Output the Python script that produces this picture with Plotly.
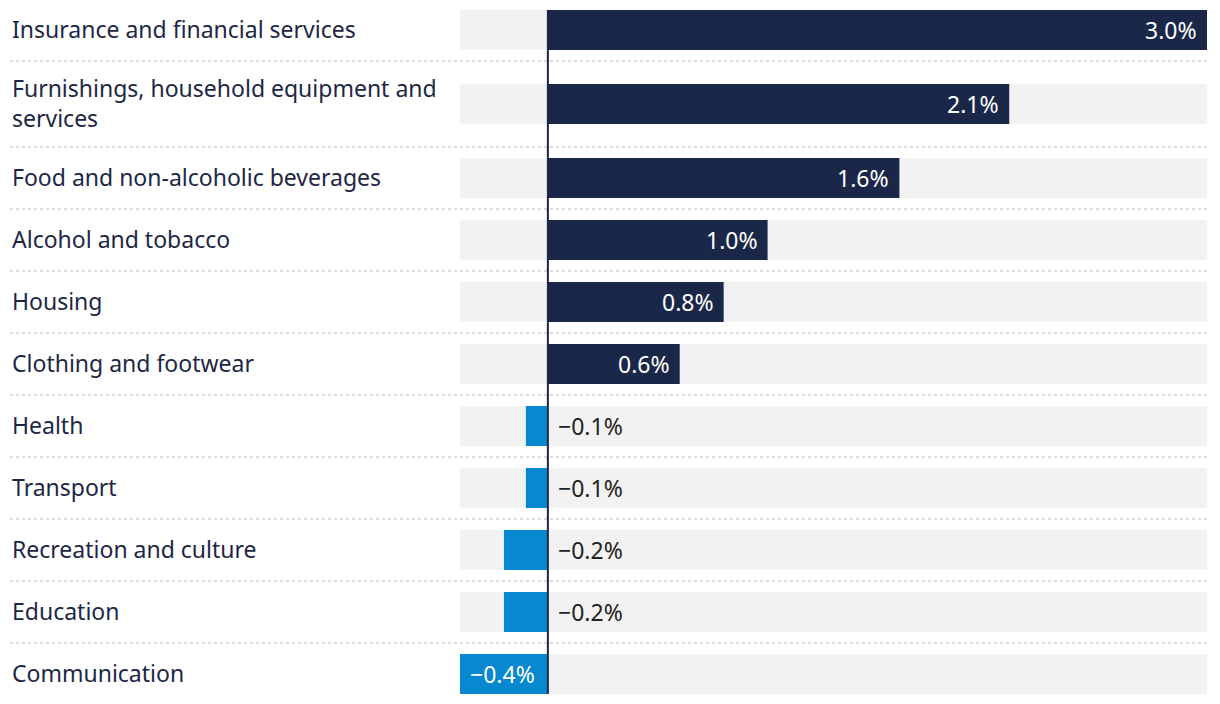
import plotly.graph_objects as go

categories = [
    "Insurance and financial services",
    "Furnishings, household equipment and<br>services",
    "Food and non-alcoholic beverages",
    "Alcohol and tobacco",
    "Housing",
    "Clothing and footwear",
    "Health",
    "Transport",
    "Recreation and culture",
    "Education",
    "Communication",
]
values = [3.0, 2.1, 1.6, 1.0, 0.8, 0.6, -0.1, -0.1, -0.2, -0.2, -0.4]
value_labels = ["3.0%", "2.1%", "1.6%", "1.0%", "0.8%", "0.6%",
                "−0.1%", "−0.1%", "−0.2%", "−0.2%", "−0.4%"]

NAVY = "#1b2749"
BLUE = "#0788d0"
GREY = "#f2f2f2"
FONT = "Noto Sans"

# page body has an 8px offset; figure is sized to fit the window
W, H = 1212, 696
ML, MR = 452, 13
XMIN, XMAX = -0.4, 3.0
BASE_ROW, LINE_EXTRA, BAR_H = 62, 24, 40
LABEL_X = 2

# row layout (y units = pixels, axis reversed)
centers, bounds = [], []
top = -9
for c in categories:
    h = BASE_ROW + LINE_EXTRA * c.count("<br>")
    centers.append(top + h / 2)
    bounds.append(top + h)
    top += h

fig = go.Figure()
# grey background bars
fig.add_trace(go.Bar(
    y=centers, x=[XMAX - XMIN] * len(values), base=[XMIN] * len(values),
    orientation="h", width=BAR_H, marker=dict(color=GREY, line=dict(width=0)),
    hoverinfo="skip", showlegend=False))
# value bars
fig.add_trace(go.Bar(
    y=centers, x=values, orientation="h", width=BAR_H,
    marker=dict(color=[NAVY if v >= 0 else BLUE for v in values], line=dict(width=0)),
    showlegend=False))

fig.update_layout(barmode="overlay")

plot_w = W - ML - MR
annotations = []
for c, yc in zip(categories, centers):
    annotations.append(dict(
        x=-(ML - LABEL_X) / plot_w, xref="paper", y=yc - 1, yref="y",
        text=c, showarrow=False, xanchor="left", yanchor="middle", align="left",
        font=dict(family=FONT, size=23, color="#1d2745")))
for v, lab, yc in zip(values, value_labels, centers):
    if v >= 0:
        annotations.append(dict(x=v, y=yc, text=lab, showarrow=False, xanchor="right",
                                xshift=-8, font=dict(family=FONT, size=23, color="white")))
    elif v <= -0.3:
        annotations.append(dict(x=v, y=yc, text=lab, showarrow=False, xanchor="left",
                                xshift=8, font=dict(family=FONT, size=23, color="white")))
    else:
        annotations.append(dict(x=0, y=yc, text=lab, showarrow=False, xanchor="left",
                                xshift=8, font=dict(family=FONT, size=23, color="#222222")))

shapes = []
for b in bounds[:-1]:
    shapes.append(dict(type="line", xref="paper", x0=-(ML - LABEL_X) / plot_w, x1=1,
                       yref="y", y0=b, y1=b,
                       line=dict(color="#cfcfcf", width=1.5, dash="dot")))
shapes.append(dict(type="line", xref="x", x0=0, x1=0, yref="y",
                   y0=centers[0] - BAR_H / 2, y1=centers[-1] + BAR_H / 2,
                   line=dict(color=NAVY, width=2)))

fig.update_layout(
    width=W, height=H,
    margin=dict(l=ML, r=MR, t=0, b=0),
    paper_bgcolor="white", plot_bgcolor="white",
    xaxis=dict(range=[XMIN, XMAX], visible=False, fixedrange=True),
    yaxis=dict(range=[H, 0], visible=False, fixedrange=True),
    annotations=annotations, shapes=shapes,
    font=dict(family=FONT),
)

fig.write_html("out.html")
